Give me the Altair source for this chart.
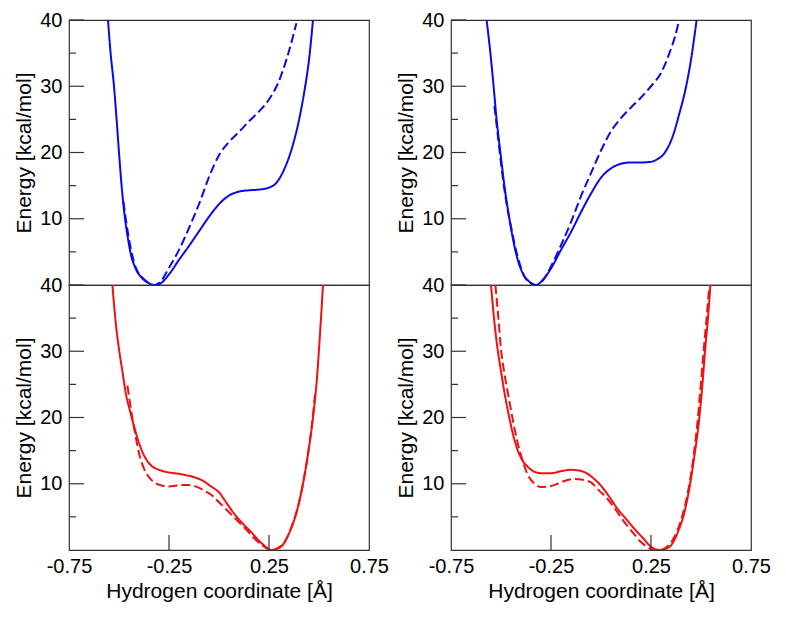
import altair as alt
import pandas as pd

# ---------------- data ----------------
X_LABELS = [-0.75, -0.25, 0.25, 0.75]
X_TICKS = [-0.25, 0.25]
Y_LABELS = [10, 20, 30, 40]
Y_MINOR = [5, 15, 25, 35]

# top-left, blue
tl_solid_x = [-0.555, -0.542, -0.525, -0.512, -0.5, -0.487, -0.47, -0.455, -0.442, -0.417, -0.383,
              -0.35, -0.325, -0.292, -0.25, -0.2, -0.15, -0.1, -0.05, 0.0, 0.05, 0.1, 0.15, 0.2,
              0.25, 0.283, 0.325, 0.367, 0.4, 0.425, 0.45, 0.47]
tl_solid_y = [40, 35, 30, 25, 20, 15, 10, 7, 4.8, 2.5, 1.0, 0.25, 0, 0.25, 1.6, 3.8, 5.9, 8.1, 10.3,
              12.2, 13.5, 14.1, 14.3, 14.4, 14.7, 15.3, 17.4, 20.9, 24.9, 28.9, 34, 40]
tl_dash_x = [-0.478, -0.45, -0.417, -0.383, -0.35, -0.32, -0.29, -0.25, -0.2, -0.15, -0.1, -0.05,
             0.0, 0.05, 0.1, 0.15, 0.2, 0.25, 0.3, 0.342, 0.37, 0.387]
tl_dash_y = [12.6, 6.9, 2.7, 1.1, 0.3, 0, 0.6, 2.6, 5.3, 8.6, 12.2, 16.3, 19.6, 21.6, 23.1, 24.7,
             26.2, 28.0, 30.8, 34.5, 37.5, 39.5]

# top-right, blue
tr_solid_x = [-0.572, -0.553, -0.537, -0.522, -0.503, -0.483, -0.458, -0.425, -0.392, -0.358, -0.325,
              -0.292, -0.25, -0.2, -0.15, -0.1, -0.05, 0.0, 0.05, 0.1, 0.15, 0.2, 0.25, 0.283,
              0.317, 0.358, 0.392, 0.425, 0.45, 0.478]
tr_solid_y = [40, 35, 30, 25, 20, 15, 10, 4.8, 1.8, 0.5, 0, 0.75, 2.5, 5.3, 8.0, 11.0, 13.8, 16.2,
              17.6, 18.3, 18.5, 18.5, 18.6, 19.0, 19.9, 22.4, 25.9, 29.9, 34, 40]
tr_dash_x = [-0.533, -0.517, -0.5, -0.48, -0.45, -0.417, -0.383, -0.35, -0.325, -0.283, -0.25, -0.2,
             -0.15, -0.1, -0.05, 0.0, 0.05, 0.1, 0.15, 0.2, 0.25, 0.3, 0.342, 0.37, 0.387]
tr_dash_y = [27, 22.9, 18.4, 13.8, 8.8, 4.3, 1.3, 0.25, 0, 1.0, 2.8, 6.0, 9.5, 13.4, 16.9, 20.3,
             23.2, 25.2, 26.8, 28.3, 30.0, 32.0, 35.0, 37.5, 39.5]

# bottom-left, red
bl_solid_x = [-0.533, -0.517, -0.5, -0.483, -0.467, -0.445, -0.425, -0.405, -0.383, -0.36, -0.333,
              -0.3, -0.25, -0.2, -0.167, -0.125, -0.083, -0.04, 0.0, 0.04, 0.083, 0.125, 0.167,
              0.2, 0.233, 0.258, 0.29, 0.317, 0.35, 0.383, 0.41, 0.433, 0.455, 0.475, 0.49, 0.5,
              0.51, 0.52]
bl_solid_y = [40, 34.5, 30.3, 27, 23.8, 21, 18.7, 16.6, 14.8, 13.5, 12.6, 12.1, 11.7, 11.5, 11.3,
              11.0, 10.5, 9.6, 8.7, 7.0, 5.2, 3.8, 2.5, 1.4, 0.5, 0, 0.2, 0.7, 2.5, 5.2, 8.5, 12.2,
              16.5, 21.3, 26, 30.3, 35, 40]
bl_dash_x = [-0.458, -0.445, -0.433, -0.417, -0.4, -0.375, -0.35, -0.317, -0.283, -0.25, -0.217,
             -0.183, -0.15, -0.117, -0.075, -0.033, 0.0, 0.05, 0.1, 0.133, 0.175, 0.217, 0.245,
             0.267, 0.3, 0.33, 0.36, 0.39, 0.42, 0.445, 0.465, 0.48]
bl_dash_y = [24.8, 22.2, 19.9, 17.2, 14.6, 12.3, 11, 10.1, 9.7, 9.6, 9.7, 9.8, 9.8, 9.6, 9.0, 8.2,
             7.2, 5.7, 4.2, 3.2, 1.8, 0.7, 0.15, 0, 0.4, 1.3, 3.3, 6.0, 10.0, 14.5, 19, 23.5]

# bottom-right, red
br_solid_x = [-0.55, -0.535, -0.517, -0.5, -0.483, -0.462, -0.442, -0.417, -0.392, -0.36, -0.333,
              -0.3, -0.25, -0.2, -0.15, -0.11, -0.067, -0.033, 0.0, 0.04, 0.083, 0.125, 0.167,
              0.21, 0.25, 0.28, 0.3, 0.325, 0.35, 0.383, 0.417, 0.443, 0.467, 0.49, 0.508, 0.52,
              0.535, 0.547]
br_solid_y = [40, 35, 30.3, 27, 23.8, 20.5, 17.7, 15.1, 13.5, 12.4, 11.8, 11.6, 11.6, 11.9, 12.1,
              12.0, 11.5, 10.7, 9.7, 8.1, 6.2, 4.7, 3.2, 1.8, 0.5, 0.05, 0, 0.2, 0.7, 2.6, 5.7,
              9.5, 14.2, 19.5, 25.3, 30, 35, 40]
br_dash_x = [-0.528, -0.513, -0.5, -0.482, -0.463, -0.44, -0.417, -0.39, -0.367, -0.333, -0.3,
             -0.26, -0.217, -0.175, -0.133, -0.09, -0.05, -0.01, 0.033, 0.075, 0.117, 0.16, 0.2,
             0.24, 0.267, 0.3, 0.33, 0.36, 0.4, 0.433, 0.46, 0.483, 0.5, 0.513, 0.528, 0.542]
br_dash_y = [40, 35, 30.3, 26.5, 23.3, 19.5, 16.2, 13.3, 11.4, 10.0, 9.5, 9.6, 10.0, 10.5, 10.7,
             10.6, 10.2, 9.0, 7.7, 6.0, 4.2, 2.6, 1.2, 0.3, 0, 0.05, 0.5, 1.6, 4.5, 8.5, 13.5,
             19.5, 25.3, 30, 35, 40]

BLUE = "#0a0ae6"
RED = "#f01010"
FRAME = "#333333"
W, H = 300, 265
FONT = "Liberation Sans"

xscale = alt.Scale(domain=[-0.75, 0.75], nice=False, zero=False)
yscale = alt.Scale(domain=[0, 40], nice=False, zero=False)

yaxis = alt.Axis(values=Y_LABELS, ticks=False, domain=False, grid=False, labelPadding=7,
                 labelFlush=False, title="Energy [kcal/mol]", titlePadding=5)
xaxis = alt.Axis(values=X_LABELS, ticks=False, domain=False, grid=False, labelPadding=6,
                 labelFlush=False,
                 labelExpr="datum.value < 0 ? '-' + format(-datum.value, '.2f') : format(datum.value, '.2f')",
                 title="Hydrogen coordinate [Å]", titlePadding=4)


def line_layer(xs, ys, color, dashed, xax):
    df = pd.DataFrame({"x": xs, "y": ys, "i": range(len(xs))})
    mk = alt.Chart(df).mark_line(color=color, strokeWidth=2, clip=True, interpolate="monotone",
                                 strokeDash=[9, 4] if dashed else [1, 0])
    return mk.encode(
        x=alt.X("x:Q", scale=xscale, axis=xax),
        y=alt.Y("y:Q", scale=yscale, axis=yaxis),
        order=alt.Order("i:Q"),
    )


def panel(sx, sy, dx, dy, color, bottom):
    xax = xaxis if bottom else None
    layers = [line_layer(dx, dy, color, True, xax), line_layer(sx, sy, color, False, xax)]
    maj = alt.Chart(pd.DataFrame({"v": Y_LABELS})).mark_rule(color=FRAME, strokeWidth=1.2).encode(
        y=alt.Y("v:Q", scale=yscale, axis=yaxis), x=alt.value(0), x2=alt.value(15))
    mnr = alt.Chart(pd.DataFrame({"v": Y_MINOR})).mark_rule(color=FRAME, strokeWidth=1.2).encode(
        y=alt.Y("v:Q", scale=yscale, axis=yaxis), x=alt.value(0), x2=alt.value(7))
    layers += [maj, mnr]
    if bottom:
        xt = alt.Chart(pd.DataFrame({"v": X_TICKS})).mark_rule(color=FRAME, strokeWidth=1.2).encode(
            x=alt.X("v:Q", scale=xscale, axis=xax), y=alt.value(H), y2=alt.value(H - 15))
        layers.append(xt)
    return alt.layer(*layers).properties(width=W, height=H)


tl = panel(tl_solid_x, tl_solid_y, tl_dash_x, tl_dash_y, BLUE, False)
tr = panel(tr_solid_x, tr_solid_y, tr_dash_x, tr_dash_y, BLUE, False)
bl = panel(bl_solid_x, bl_solid_y, bl_dash_x, bl_dash_y, RED, True)
br = panel(br_solid_x, br_solid_y, br_dash_x, br_dash_y, RED, True)

chart = alt.concat(tl, tr, bl, br, columns=2, spacing={"row": 0, "column": 82}, bounds="flush").properties(
    padding={"left": 5, "top": 1, "right": 5, "bottom": 5}
).configure_view(
    stroke=FRAME, strokeWidth=1.2
).configure_axis(
    labelFont=FONT, labelFontSize=20, labelColor="black",
    titleFont=FONT, titleFontSize=21, titleFontWeight="normal", titleColor="black",
)

chart.save("out.html", embed_options={"renderer": "svg", "actions": False})
